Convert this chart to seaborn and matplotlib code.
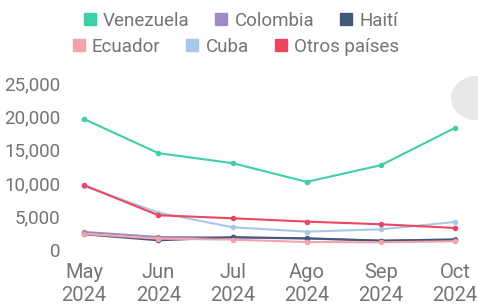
import pandas as pd
import matplotlib
matplotlib.use("Agg")
import matplotlib.pyplot as plt
import seaborn as sns
from matplotlib.patches import Ellipse
from matplotlib.lines import Line2D

# Data
months = ['May\n2024', 'Jun\n2024', 'Jul\n2024', 'Ago\n2024', 'Sep\n2024', 'Oct\n2024']
venezuela = [19600, 14500, 13000, 10200, 12700, 18300]
colombia = [2700, 1950, 1900, 1700, 1400, 1600]
haiti = [2350, 1450, 1900, 1750, 1400, 1550]
ecuador = [2400, 1700, 1550, 1200, 1150, 1300]
cuba = [9600, 5600, 3400, 2750, 3100, 4200]
otros = [9700, 5200, 4750, 4250, 3850, 3300]

series = {
    'Venezuela': venezuela,
    'Colombia': colombia,
    'Haití': haiti,
    'Ecuador': ecuador,
    'Cuba': cuba,
    'Otros países': otros,
}
colors = {
    'Venezuela': '#3dcfa8',
    'Colombia': '#a08ac6',
    'Haití': '#44587c',
    'Ecuador': '#f5a3ab',
    'Cuba': '#a8c8e8',
    'Otros países': '#ee4560',
}

rows = []
for name, vals in series.items():
    for i, v in enumerate(vals):
        rows.append({'pais': name, 'x': i, 'valor': v})
df = pd.DataFrame(rows)

sns.set_style('white')
plt.rcParams['font.family'] = ['Roboto', 'DejaVu Sans']
text_color = '#747474'

fig = plt.figure(figsize=(4.78, 3.08), dpi=100)
W, H = 478, 308
# axes from x=70..470 px, y=83..250 px
ax = fig.add_axes([70 / W, (H - 250) / H, 400 / W, 167 / H])

order = ['Venezuela', 'Cuba', 'Otros países', 'Colombia', 'Haití', 'Ecuador']
sns.lineplot(data=df, x='x', y='valor', hue='pais', hue_order=order,
             palette=colors, marker='o', markersize=4, markeredgewidth=0,
             linewidth=1.5, ax=ax, legend=False)

ax.set_xlim(-0.19, 5.2)
ax.set_ylim(0, 25000)
ax.set_yticks([0, 5000, 10000, 15000, 20000, 25000])
ax.set_yticklabels(['0', '5,000', '10,000', '15,000', '20,000', '25,000'])
ax.set_xticks(range(len(months)))
ax.set_xticklabels(months, linespacing=1.3)
ax.tick_params(axis='y', length=0, labelsize=13.5, colors=text_color, pad=7)
ax.tick_params(axis='x', length=0, labelsize=14.5, colors=text_color, pad=9)
ax.set_xlabel('')
ax.set_ylabel('')
sns.despine(ax=ax, left=True, bottom=True)
ax.grid(False)

# legend: two centred rows, like the original flow layout
def add_row(names, y, x):
    handles = [Line2D([], [], marker='s', linestyle='', markersize=8,
                      color=colors[n]) for n in names]
    leg = fig.legend(handles, names, loc='center', bbox_to_anchor=(x, y),
                     ncol=3, frameon=False, fontsize=13.5, handletextpad=0.3,
                     columnspacing=1.3, handlelength=0.8, borderpad=0)
    for t in leg.get_texts():
        t.set_color(text_color)
    return leg

add_row(['Venezuela', 'Colombia', 'Haití'], 1 - 21 / H, 240 / W)
add_row(['Ecuador', 'Cuba', 'Otros países'], 1 - 47 / H, 235 / W)

# light grey shape at the right edge
fig.patches.append(Ellipse((1.0, 1 - 98 / H), 0.11, 0.14, transform=fig.transFigure,
                           color='#e8e8e8', zorder=0))

fig.savefig('out.png', dpi=100)
